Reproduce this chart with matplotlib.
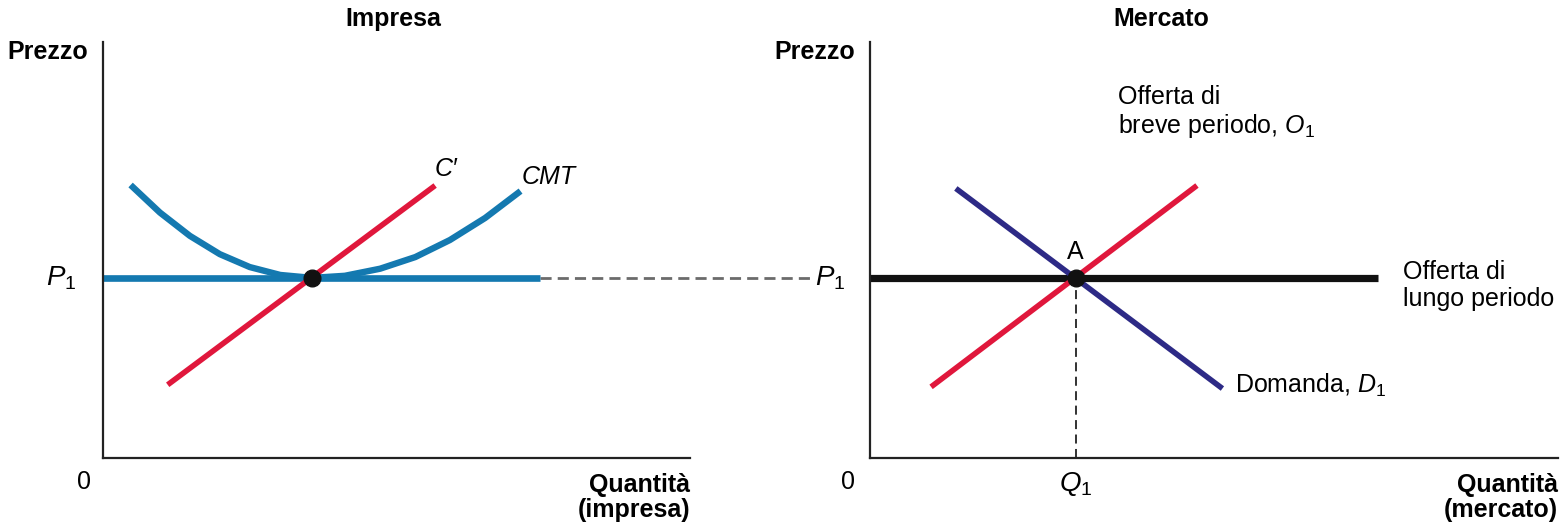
import matplotlib.pyplot as plt
from matplotlib import font_manager

# font: narrow sans if available
names = {f.name for f in font_manager.fontManager.ttflist}
fam = 'Liberation Sans Narrow' if 'Liberation Sans Narrow' in names else 'Liberation Sans'
plt.rcParams['font.family'] = [fam, 'DejaVu Sans']
plt.rcParams['mathtext.fontset'] = 'custom'
plt.rcParams['mathtext.it'] = fam + ':italic'
plt.rcParams['mathtext.rm'] = fam

# --- dati (unità 0-100 sugli assi) ---
p1 = 43.3
# impresa
cmt_x = [5.1, 9.7, 14.8, 19.9, 25.0, 30.2, 35.6, 41.2, 47.2, 53.2, 59.1, 65.1, 70.7]
cmt_y = [65.1, 59.0, 53.4, 49.0, 45.9, 44.0, 43.3, 43.8, 45.5, 48.3, 52.4, 57.7, 63.7]
cm_x = [11.4, 56.2]          # C'
cm_y = [18.0, 65.1]
prezzo_impresa_x = [0, 74.4]
tratteggio_x = [74.4, 121.3]
eq_impresa = (35.6, p1)
# mercato
offerta_breve_x = [9.2, 47.2]
offerta_breve_y = [17.5, 65.1]
domanda_x = [12.8, 50.9]
domanda_y = [64.4, 17.1]
offerta_lungo_x = [0, 73.8]
q1 = 29.9

BLUE = '#1479b0'
RED = '#e0173c'
NAVY = '#2d2a86'
fig = plt.figure(figsize=(15.65, 5.28), dpi=100)

ax1 = fig.add_axes([103 / 1565, 1 - 458 / 528, 587 / 1565, 416 / 528])
ax2 = fig.add_axes([870 / 1565, 1 - 458 / 528, 688 / 1565, 416 / 528])

for ax in (ax1, ax2):
    ax.set_xlim(0, 100)
    ax.set_ylim(0, 100)
    ax.set_xticks([])
    ax.set_yticks([])
    for s in ('top', 'right'):
        ax.spines[s].set_visible(False)
    for s in ('left', 'bottom'):
        ax.spines[s].set_linewidth(1.6)
        ax.spines[s].set_color('#222222')
    ax.patch.set_visible(False)

# --- Impresa ---
ax1.plot(tratteggio_x, [p1, p1], color='#6b6b6b', lw=2.0, ls=(0, (4, 2.2)), clip_on=False, zorder=1)
ax1.plot(prezzo_impresa_x, [p1, p1], color=BLUE, lw=4.8, solid_capstyle='butt', zorder=2)
ax1.plot(cmt_x, cmt_y, color=BLUE, lw=4.6, solid_joinstyle='round', zorder=2)
ax1.plot(cm_x, cm_y, color=RED, lw=4.0, zorder=3)
ax1.plot(*eq_impresa, 'o', color='#111111', ms=12, zorder=4)

ax1.text(58.5, 69.5, "C\u2032", fontsize=18, style='italic', ha='center', va='center')
ax1.text(76, 67.5, "CMT", fontsize=18, style='italic', ha='center', va='center')
ax1.text(-4.5, p1, "$P_{1}$", fontsize=20, ha='right', va='center')
ax1.text(-3.3, -5.8, "0", fontsize=18, ha='center', va='center')
ax1.text(-2.5, 97.5, "Prezzo", fontsize=18, fontweight='bold', ha='right', va='center')
ax1.text(100, -9.5, "Quantità\n(impresa)", fontsize=18, fontweight='bold', ha='right', va='center',
         linespacing=1.05)
ax1.text(49.4, 105.5, "Impresa", fontsize=18, fontweight='bold', ha='center', va='center')

# --- Mercato ---
ax2.plot(offerta_lungo_x, [p1, p1], color='#111111', lw=5.2, solid_capstyle='butt', zorder=2)
ax2.plot([q1, q1], [0, p1], color='#222222', lw=1.3, ls=(0, (5, 3)), zorder=1)
ax2.plot(offerta_breve_x, offerta_breve_y, color=RED, lw=4.0, zorder=3)
ax2.plot(domanda_x, domanda_y, color=NAVY, lw=4.0, zorder=3)
ax2.plot(q1, p1, 'o', color='#111111', ms=12, zorder=4)

ax2.text(q1, 49.5, "A", fontsize=18, ha='center', va='center')
ax2.text(-3.6, p1, "$P_{1}$", fontsize=20, ha='right', va='center')
ax2.text(q1, -6.3, "$Q_{1}$", fontsize=20, ha='center', va='center')
ax2.text(-3.2, -5.8, "0", fontsize=18, ha='center', va='center')
ax2.text(-2.2, 97.5, "Prezzo", fontsize=18, fontweight='bold', ha='right', va='center')
ax2.text(100, -9.5, "Quantità\n(mercato)", fontsize=18, fontweight='bold', ha='right', va='center',
         linespacing=1.05)
ax2.text(42.4, 105.5, "Mercato", fontsize=18, fontweight='bold', ha='center', va='center')
ax2.text(36.0, 83.0, "Offerta di\nbreve periodo, $O_{1}$", fontsize=18, ha='left', va='center',
         linespacing=1.15)
ax2.text(77.5, 41.5, "Offerta di\nlungo periodo", fontsize=18, ha='left', va='center', linespacing=1.15)
ax2.text(53.0, 17.5, "Domanda, $D_{1}$", fontsize=18, ha='left', va='center')

fig.savefig('out.png', dpi=100)
